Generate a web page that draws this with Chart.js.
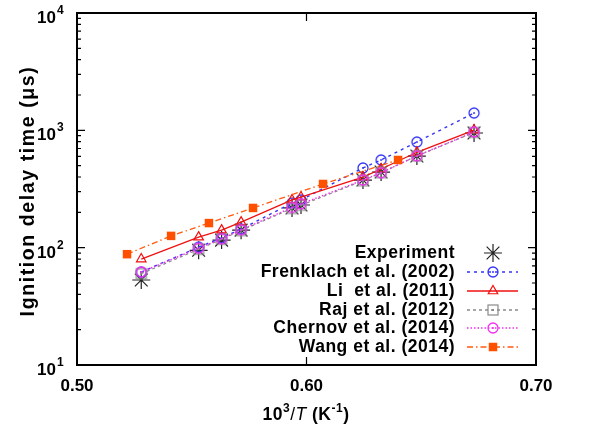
<!DOCTYPE html>
<html>
<head>
<meta charset="utf-8">
<script src="https://cdn.jsdelivr.net/npm/chart.js@4"></script>
<style>
  html, body { margin: 0; padding: 0; background: #fff; }
</style>
</head>
<body>
<canvas id="chart" width="592" height="431"></canvas>
<script>
// inverse temperature 10^3/T (1/K) shared by experiment and most models
const invT = [0.528, 0.553, 0.563, 0.5715, 0.5937, 0.5976, 0.6246, 0.6325, 0.6481, 0.673];
const wangInvT = [0.5218, 0.541, 0.5575, 0.5767, 0.6072, 0.6399];

// ignition delay times (microseconds)
const experiment = [53, 95, 116, 141, 218, 231, 377, 441, 604, 949];
const frenklach = [62, 101, 121, 144, 240, 255, 478, 559, 795, 1405];
const li = [80, 123, 141, 165, 255, 270, 400, 468, 650, 1006];
const raj = [60, 97, 118, 140, 216, 230, 372, 436, 604, 960];
const chernov = [62, 99, 119, 142, 220, 236, 377, 435, 606, 968];
const wang = [88, 126, 162, 218, 349, 559];

const seriesNames = ['Experiment', 'Frenklach et al. (2002)', 'Li  et al. (2011)',
  'Raj et al. (2012)', 'Chernov et al. (2014)', 'Wang et al. (2014)'];

const xTicks = [0.50, 0.60, 0.70];
const yDecades = [1, 2, 3, 4];

const FONT = '"Liberation Sans", Arial, sans-serif';

function pts(xs, ys) {
    return xs.map((x, i) => ({ x: x, y: ys[i] }));
}

// little marker images: open shape with a dot in the middle
function ringDot(color, r) {
    const c = document.createElement('canvas');
    c.width = c.height = r * 2 + 4;
    const g = c.getContext('2d');
    const m = c.width / 2;
    g.strokeStyle = color;
    g.fillStyle = color;
    g.lineWidth = 1.3;
    g.beginPath();
    g.arc(m, m, r, 0, Math.PI * 2);
    g.stroke();
    g.beginPath();
    g.arc(m, m, 1, 0, Math.PI * 2);
    g.fill();
    return c;
}

function boxDot(color, r) {
    const c = document.createElement('canvas');
    c.width = c.height = r * 2 + 4;
    const g = c.getContext('2d');
    const m = c.width / 2;
    g.strokeStyle = color;
    g.fillStyle = color;
    g.lineWidth = 1.2;
    g.strokeRect(m - r, m - r, r * 2, r * 2);
    g.fillRect(m - 1, m - 1, 2, 2);
    return c;
}

const datasets = [
    {
        label: seriesNames[0], data: pts(invT, experiment), order: 6,
        showLine: false, pointStyle: 'star', pointRadius: 9, pointBorderWidth: 1.2,
        borderColor: '#222', pointBorderColor: '#222', pointBackgroundColor: 'rgba(0,0,0,0)'
    },
    {
        label: seriesNames[1], data: pts(invT, frenklach), order: 5,
        borderColor: '#3535f5', borderWidth: 1.4, borderDash: [3, 4],
        pointStyle: ringDot('#3535f5', 5), pointRadius: 5,
        pointBorderColor: '#3535f5', pointBackgroundColor: 'rgba(0,0,0,0)'
    },
    {
        label: seriesNames[2], data: pts(invT, li), order: 4,
        borderColor: '#f01010', borderWidth: 1.3, borderDash: [],
        pointStyle: 'triangle', pointRadius: 5.5, pointBorderWidth: 1.2,
        pointBorderColor: '#f01010', pointBackgroundColor: 'rgba(0,0,0,0)'
    },
    {
        label: seriesNames[3], data: pts(invT, raj), order: 3,
        borderColor: '#8a8a8a', borderWidth: 1.3, borderDash: [3, 3],
        pointStyle: boxDot('#8a8a8a', 5), pointRadius: 5,
        pointBorderColor: '#8a8a8a', pointBackgroundColor: 'rgba(0,0,0,0)'
    },
    {
        label: seriesNames[4], data: pts(invT, chernov), order: 2,
        borderColor: '#f030f0', borderWidth: 1.4, borderDash: [1.5, 2],
        pointStyle: ringDot('#f030f0', 5), pointRadius: 5,
        pointBorderColor: '#f030f0', pointBackgroundColor: 'rgba(0,0,0,0)'
    },
    {
        label: seriesNames[5], data: pts(wangInvT, wang), order: 1,
        borderColor: '#ff5a10', borderWidth: 1.3, borderDash: [6, 3, 1.5, 3],
        pointStyle: 'rect', pointRadius: 6, pointBorderWidth: 0,
        pointBorderColor: '#ff5000', pointBackgroundColor: '#ff5000'
    }
];

// text with superscripts / italics, drawn piece by piece
function drawRich(ctx, parts, x, y, align) {
    let total = 0;
    parts.forEach(p => { ctx.font = p.font; total += ctx.measureText(p.t).width; });
    let cx = align === 'center' ? x - total / 2 : (align === 'right' ? x - total : x);
    ctx.textAlign = 'left';
    ctx.textBaseline = 'alphabetic';
    parts.forEach(p => {
        ctx.font = p.font;
        ctx.fillText(p.t, cx, y + (p.dy || 0));
        cx += ctx.measureText(p.t).width;
    });
}

const frame = {
    id: 'frame',
    afterDraw(chart) {
        const { ctx, chartArea: a, scales: { x, y } } = chart;
        ctx.save();
        ctx.strokeStyle = '#000';
        ctx.fillStyle = '#000';
        ctx.lineWidth = 1.2;

        // y ticks, inside on both sides
        ctx.beginPath();
        yDecades.forEach(d => {
            const py = y.getPixelForValue(Math.pow(10, d));
            ctx.moveTo(a.left, py); ctx.lineTo(a.left + 8, py);
            ctx.moveTo(a.right, py); ctx.lineTo(a.right - 8, py);
            if (d < 4) {
                for (let k = 2; k <= 9; k++) {
                    const my = y.getPixelForValue(k * Math.pow(10, d));
                    ctx.moveTo(a.left, my); ctx.lineTo(a.left + 4, my);
                    ctx.moveTo(a.right, my); ctx.lineTo(a.right - 4, my);
                }
            }
        });
        xTicks.forEach(v => {
            const px = x.getPixelForValue(v);
            ctx.moveTo(px, a.bottom); ctx.lineTo(px, a.bottom - 8);
            ctx.moveTo(px, a.top); ctx.lineTo(px, a.top + 8);
        });
        ctx.stroke();

        ctx.lineWidth = 2;
        ctx.strokeRect(a.left, a.top, a.right - a.left, a.bottom - a.top);

        // tick labels
        yDecades.forEach(d => {
            const py = y.getPixelForValue(Math.pow(10, d));
            ctx.font = 'bold 17px ' + FONT;
            ctx.textAlign = 'right';
            ctx.textBaseline = 'alphabetic';
            ctx.fillText('10', 56, py + 10);
            ctx.font = 'bold 12px ' + FONT;
            ctx.textAlign = 'left';
            ctx.fillText(String(d), 57, py + 1);
        });
        ctx.font = 'bold 17px ' + FONT;
        ctx.textAlign = 'center';
        xTicks.forEach(v => {
            ctx.fillText(v.toFixed(2), x.getPixelForValue(v), 391);
        });

        // axis titles
        const b = 'bold 17.5px ' + FONT, s = 'bold 12px ' + FONT;
        ctx.letterSpacing = '0.5px';
        drawRich(ctx, [
            { t: '10', font: b }, { t: '3', font: s, dy: -8 },
            { t: '/', font: '17.5px ' + FONT }, { t: 'T', font: 'italic 17.5px ' + FONT },
            { t: ' (K', font: b }, { t: '-1', font: s, dy: -8 }, { t: ')', font: b }
        ], 306, 420, 'center');

        ctx.save();
        ctx.letterSpacing = '1.6px';
        ctx.translate(34, 191);
        ctx.rotate(-Math.PI / 2);
        ctx.font = 'bold 19.5px ' + FONT;
        ctx.textAlign = 'center';
        ctx.textBaseline = 'alphabetic';
        ctx.fillText('Ignition delay time (\u03bcs)', 0, 0);
        ctx.restore();

        // legend: text right-aligned, sample line + marker on the right
        const rowY = [253, 272, 291, 310, 328, 347];
        chart.data.datasets.forEach((ds, i) => {
            const ry = rowY[i];
            ctx.fillStyle = '#000';
            ctx.font = 'bold 17.5px ' + FONT;
            ctx.letterSpacing = '0.5px';
            ctx.textAlign = 'right';
            ctx.textBaseline = 'middle';
            ctx.fillText(ds.label, 455, ry);
            ctx.letterSpacing = '0px';
            if (ds.showLine !== false) {
                ctx.strokeStyle = ds.borderColor;
                ctx.lineWidth = ds.borderWidth;
                ctx.setLineDash(ds.borderDash);
                ctx.beginPath();
                ctx.moveTo(467, ry); ctx.lineTo(518, ry);
                ctx.stroke();
                ctx.setLineDash([]);
            }
            ctx.strokeStyle = ds.pointBorderColor;
            ctx.fillStyle = ds.pointBackgroundColor;
            ctx.lineWidth = ds.pointBorderWidth || 1;
            Chart.helpers.drawPoint(ctx, {
                pointStyle: ds.pointStyle, radius: ds.pointRadius,
                rotation: 0, borderWidth: ds.pointBorderWidth === undefined ? 1 : ds.pointBorderWidth
            }, 493, ry);
        });
        ctx.restore();
    }
};

new Chart(document.getElementById('chart'), {
    type: 'line',
    data: { datasets: datasets },
    options: {
        responsive: false,
        animation: false,
        layout: { padding: { top: 13, right: 56, left: 0, bottom: 0 } },
        plugins: { legend: { display: false }, tooltip: { enabled: false } },
        scales: {
            x: {
                type: 'linear', min: 0.5, max: 0.7,
                ticks: { display: false }, grid: { display: false }, border: { display: false },
                afterFit(scale) { scale.height = 66; }
            },
            y: {
                type: 'logarithmic', min: 10, max: 10000,
                ticks: { display: false }, grid: { display: false }, border: { display: false },
                afterFit(scale) { scale.width = 77; }
            }
        }
    },
    plugins: [frame]
});
</script>
</body>
</html>
